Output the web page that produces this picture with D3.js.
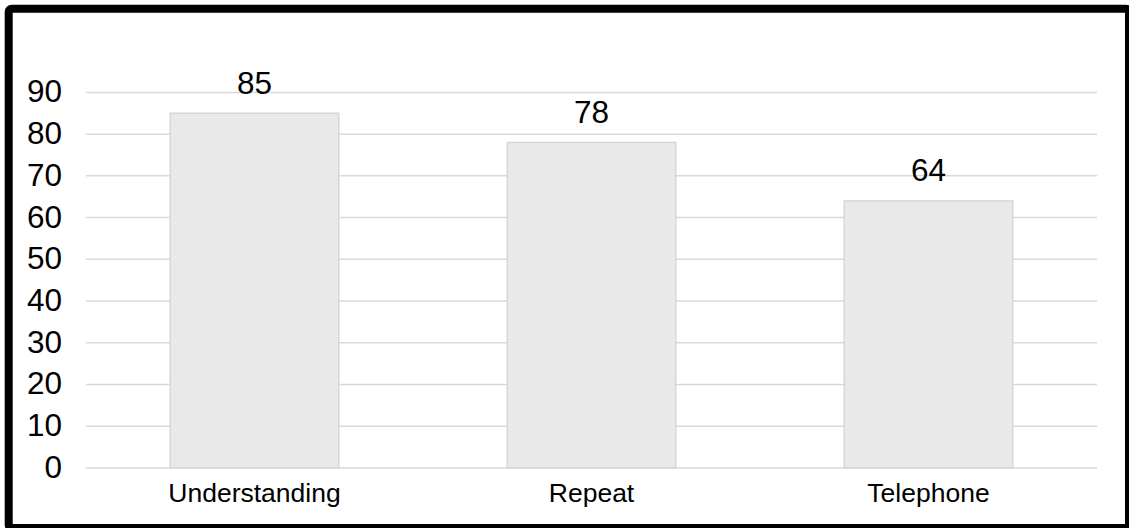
<!DOCTYPE html>
<html><head><meta charset="utf-8">
<script src="https://cdn.jsdelivr.net/npm/d3@7"></script>
<style>html,body{margin:0;padding:0;background:#fff;}svg{display:block;}</style>
</head><body>
<svg id="c" width="1129" height="528"></svg>
<script>
const categories = ["Understanding", "Repeat", "Telephone"];
const values = [85, 78, 64];
const yTicks = [0, 10, 20, 30, 40, 50, 60, 70, 80, 90];

const svg = d3.select("#c");
const W = 1129, H = 528;
const m = {left: 86, right: 1097, top: 92.4, bottom: 468};

svg.append("rect").attr("x",0).attr("y",0).attr("width",W).attr("height",H).attr("fill","#fff");

const x = d3.scaleBand().domain(categories).range([m.left, m.right]).paddingInner(0.5).paddingOuter(0.25);
const y = d3.scaleLinear().domain([0, 90]).range([m.bottom, m.top]);

// gridlines
svg.append("g").selectAll("line").data(yTicks).join("line")
  .attr("x1", m.left).attr("x2", m.right)
  .attr("y1", d => y(d)).attr("y2", d => y(d))
  .attr("stroke", "#d9d9d9").attr("stroke-width", 1.5);

// y tick labels
const yAxis = d3.axisLeft(y).tickValues(yTicks).tickSize(0).tickPadding(0);
const ga = svg.append("g").attr("transform", `translate(62,0)`).call(yAxis);
ga.select(".domain").remove();
ga.selectAll("text").attr("font-family","'Liberation Sans', Arial, sans-serif")
  .attr("font-size", 31.5).attr("fill", "#000").attr("dy", "0.3em");

// bars
svg.append("g").selectAll("rect").data(values).join("rect")
  .attr("x", (d,i) => x(categories[i]))
  .attr("width", x.bandwidth())
  .attr("y", d => y(d))
  .attr("height", d => y(0) - y(d))
  .attr("fill", "#e9e9e9").attr("stroke", "#d6d6d6").attr("stroke-width", 1.5);

// value labels
svg.append("g").selectAll("text").data(values).join("text")
  .attr("x", (d,i) => x(categories[i]) + x.bandwidth()/2)
  .attr("y", d => y(d) - 19.5)
  .attr("text-anchor", "middle")
  .attr("font-family","'Liberation Sans', Arial, sans-serif")
  .attr("font-size", 31.5).attr("fill", "#000")
  .text(d => d);

// x axis labels
const xAxis = d3.axisBottom(x).tickSize(0).tickPadding(0);
const gx = svg.append("g").attr("transform", `translate(0,${m.bottom})`).call(xAxis);
gx.select(".domain").remove();
gx.selectAll("text").attr("font-family","'Liberation Sans', Arial, sans-serif")
  .attr("font-size", 26.5).attr("fill", "#000").attr("dy", null).attr("y", 34);

// frame
svg.append("rect").attr("x", 8.7).attr("y", 8.7).attr("width", 1120.3).attr("height", 519.3)
  .attr("rx", 3).attr("fill", "none").attr("stroke", "#000").attr("stroke-width", 8);
</script>
</body></html>
